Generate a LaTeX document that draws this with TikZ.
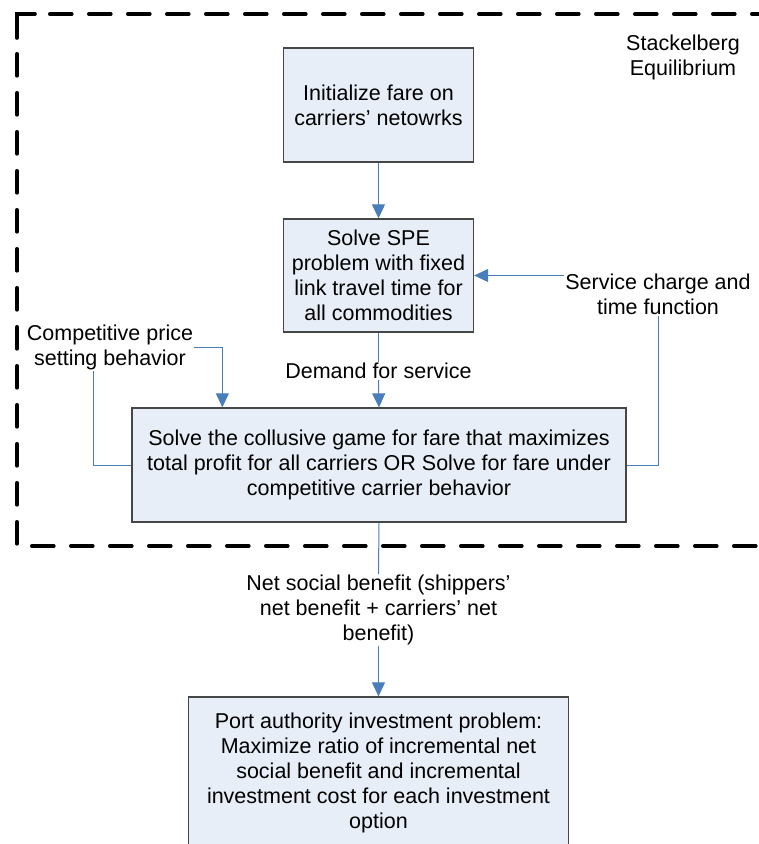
\documentclass[tikz,border=0pt]{standalone}
\usepackage{fontspec}
\setmainfont{Liberation Sans}
\usetikzlibrary{arrows.meta,calc}
\definecolor{boxfill}{RGB}{232,238,247}
\definecolor{boxline}{RGB}{70,70,70}
\definecolor{linkblue}{RGB}{74,126,187}
\begin{document}
\begin{tikzpicture}[x=1pt,y=-1pt,
  every node/.style={font=\fontsize{21.5}{25}\selectfont, align=center},
  procbox/.style={draw=boxline, line width=1.3pt, fill=boxfill, inner sep=0pt},
  lbl/.style={inner sep=1pt},
  conn/.style={draw=linkblue, line width=1pt},
  arr/.style={conn, -{Triangle[length=14pt,width=13pt]}},
  frame/.style={line width=3.6pt, dash pattern=on 22pt off 17pt, line cap=round, line join=miter}
]
\useasboundingbox (0,0) rectangle (759,844);

% dashed frame
\draw[line width=3.6pt, line cap=round, line join=miter] (17,38) -- (17,14) -- (35,14);
\draw[frame] (49.8,14) -- (820,14);
\draw[frame] (17,53.8) -- (17,546) -- (820,546);

% boxes
\node[procbox, minimum width=190pt, minimum height=114pt] (b1) at (378.5,105)
  {Initialize fare on\\carriers’ netowrks};
\node[procbox, minimum width=190pt, minimum height=113pt] (b2) at (378.5,275.5)
  {Solve SPE\\problem with fixed\\link travel time for\\all commodities};
\node[procbox, minimum width=494pt, minimum height=114pt] (b3) at (379,465)
  {Solve the collusive game for fare that maximizes\\total profit for all carriers OR Solve for fare under\\competitive carrier behavior};
\node[procbox, minimum width=380pt, minimum height=152pt] (b4) at (378.5,773)
  {Port authority investment problem:\\Maximize ratio of incremental net\\social benefit and incremental\\investment cost for each investment\\option};

% labels
\node[lbl] (stack) at (683,57) {Stackelberg\\Equilibrium};
\node[lbl] (svc) at (658,294) {Service charge and\\time function};
\node[lbl] (comp) at (110,347.5) {Competitive price\\setting behavior};
\node[lbl] (dem) at (378.5,371) {Demand for service};
\node[lbl] (net) at (378.5,610) {Net social benefit (shippers’\\net benefit + carriers’ net\\benefit)};

% connectors
\draw[arr] (b1.south) -- (b2.north);
\draw[arr] (svc.west |- b2.east) -- (b2.east);
\draw[conn] (svc.south) |- (b3.east);
\draw[arr] (comp.east) -| ($(b3.north west)+(91,0)$);
\draw[conn] ($(comp.south)+(-17,0)$) |- (b3.west);
\draw[conn] (b2.south) -- (dem.north);
\draw[arr] (dem.south) -- (b3.north);
\draw[conn] (b3.south) -- (net.north);
\draw[arr] (net.south) -- (b4.north);
\end{tikzpicture}
\end{document}
